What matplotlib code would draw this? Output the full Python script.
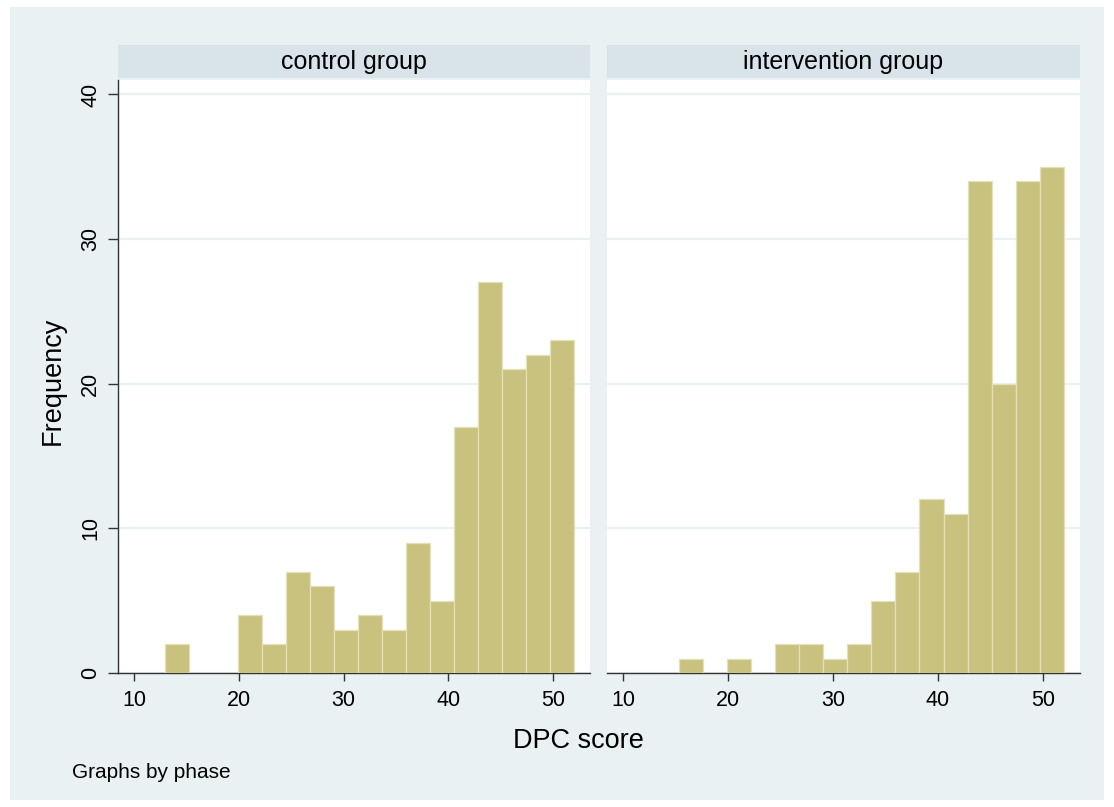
import numpy as np
import matplotlib
matplotlib.use("Agg")
import matplotlib.pyplot as plt
from matplotlib.patches import Rectangle

plt.rcParams['font.family'] = ['Liberation Sans', 'DejaVu Sans']

# histogram bins (17 bins from 13 to 52) and frequencies per group
bin_edges = np.linspace(13, 52, 18)
control_counts = [2, 0, 0, 4, 2, 7, 6, 3, 4, 3, 9, 5, 17, 27, 21, 22, 23]
intervention_counts = [0, 1, 0, 1, 0, 2, 2, 1, 2, 5, 7, 12, 11, 34, 20, 34, 35]
panel_titles = ["control group", "intervention group"]
x_ticks = [10, 20, 30, 40, 50]
y_ticks = [0, 10, 20, 30, 40]

BG = "#EAF1F3"
STRIP = "#D8E4EA"
BAR = "#C9C27F"
W, H = 1114, 807

fig = plt.figure(figsize=(W / 100, H / 100), dpi=100, facecolor="white")
fig.patches.append(Rectangle((10 / W, 7 / H), (1104 - 10) / W, (800 - 7) / H,
                             transform=fig.transFigure, facecolor=BG,
                             edgecolor="none", zorder=-10))

panels = [(118, 590), (607, 1080)]
top_px, bot_px = 80, 673
for i, ((x0, x1), counts, title) in enumerate(zip(panels, [control_counts, intervention_counts], panel_titles)):
    ax = fig.add_axes([x0 / W, 1 - bot_px / H, (x1 - x0) / W, (bot_px - top_px) / H])
    ax.set_facecolor("white")
    ax.bar(bin_edges[:-1], counts, width=np.diff(bin_edges), align="edge",
           color=BAR, edgecolor="#E3E0BC", linewidth=0.9, zorder=3)
    ax.set_xlim(8.47, 53.53)
    ax.set_ylim(0, 41.0)
    ax.set_xticks(x_ticks)
    ax.set_yticks(y_ticks)
    ax.yaxis.grid(True, color=BG, lw=1.6, zorder=0)
    ax.set_axisbelow(True)
    for s in ["top", "right"]:
        ax.spines[s].set_visible(False)
    ax.spines["bottom"].set_color("#333333")
    ax.spines["bottom"].set_linewidth(1.0)
    ax.tick_params(axis="x", length=6, width=1, color="#333333", labelsize=15.5, pad=6)
    if i == 0:
        ax.spines["left"].set_color("#333333")
        ax.spines["left"].set_linewidth(1.0)
        ax.tick_params(axis="y", length=7, width=1, color="#333333", labelsize=15.5, pad=5)
        for lab in ax.get_yticklabels():
            lab.set_rotation(90)
            lab.set_va("center")
    else:
        ax.spines["left"].set_visible(False)
        ax.tick_params(axis="y", left=False, labelleft=False)
    # strip title
    fig.patches.append(Rectangle((x0 / W, 1 - 78 / H), (x1 - x0) / W, 33 / H,
                                 transform=fig.transFigure, facecolor=STRIP,
                                 edgecolor="none", zorder=-5))
    fig.text((x0 + x1) / 2 / W, 1 - 62 / H, title, ha="center", va="center", fontsize=18)

fig.text(53 / W, 1 - 381 / H, "Frequency", rotation=90, ha="center", va="center", fontsize=19.5)
fig.text(578 / W, 1 - 741 / H, "DPC score", ha="center", va="center", fontsize=19.5)
fig.text(72 / W, 1 - 772 / H, "Graphs by phase", ha="left", va="center", fontsize=15)

fig.savefig("out.png", dpi=100, facecolor="white")
